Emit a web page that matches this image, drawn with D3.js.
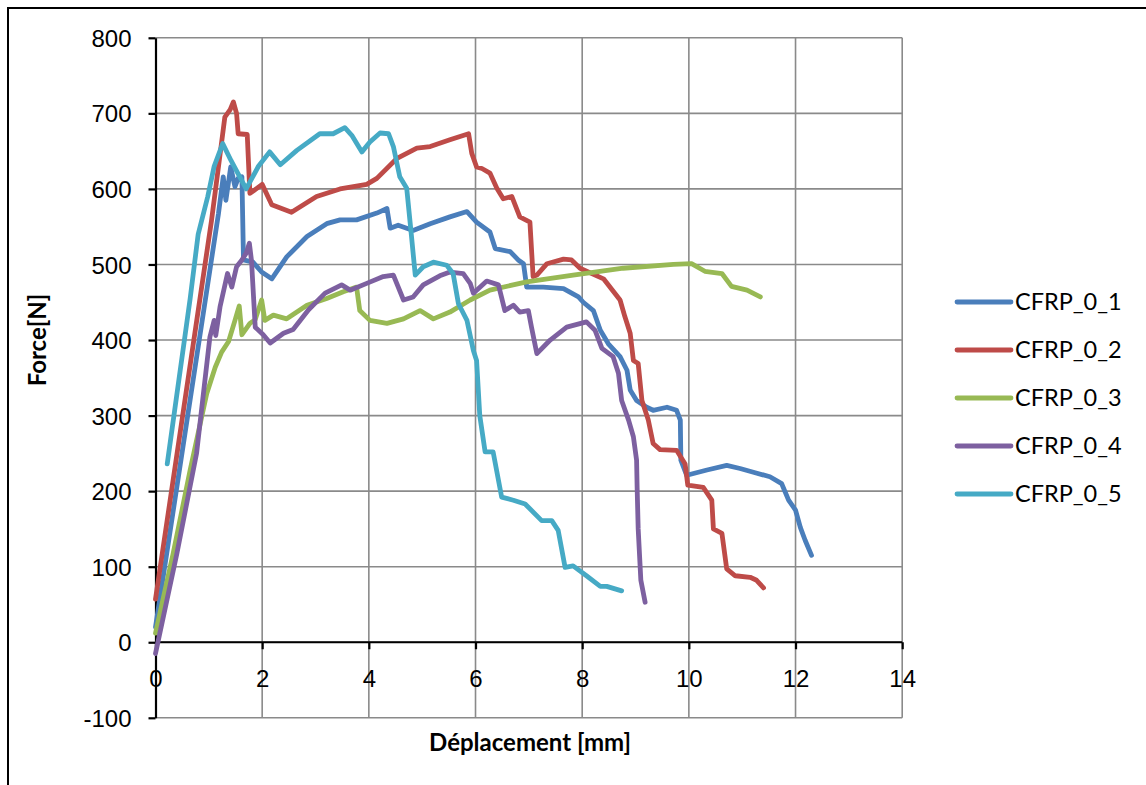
<!DOCTYPE html>
<html>
<head>
<meta charset="utf-8">
<script src="https://cdn.jsdelivr.net/npm/d3@7"></script>
<style>
    html, body { margin: 0; padding: 0; background: #fff; }
    svg { display: block; font-family: Lato, "Open Sans", sans-serif; }
    .grid line { stroke: #8a8a8a; stroke-width: 1.6; }
    .axis path, .axis line { stroke: #000; stroke-width: 2.2; }
    .axis text { font-size: 24px; fill: #000; }
    .title { font-size: 24px; font-weight: bold; fill: #000; }
    .legend text { font-size: 23.5px; fill: #000; }
</style>
</head>
<body>
<svg id="chart" width="1146" height="785"></svg>
<script>
// ---- data: [displacement mm, force N] ----
const seriesNames = ["CFRP_0_1", "CFRP_0_2", "CFRP_0_3", "CFRP_0_4", "CFRP_0_5"];
const seriesColors = ["#4a7ebb", "#be4b48", "#98b954", "#7d60a0", "#46aac5"];

const xTicks = [0, 2, 4, 6, 8, 10, 12, 14];
const yTicks = [-100, 0, 100, 200, 300, 400, 500, 600, 700, 800];

const cfrp01 = [
    [0.0, 20], [1.18, 567], [1.27, 616], [1.32, 585], [1.41, 629], [1.49, 603], [1.55, 614],
    [1.62, 616], [1.65, 506], [1.83, 503], [1.99, 490], [2.18, 481], [2.46, 510], [2.84, 537],
    [3.21, 554], [3.46, 559], [3.77, 559], [4.15, 568], [4.34, 574], [4.40, 548], [4.55, 552],
    [4.83, 545], [5.15, 554], [5.52, 563], [5.84, 570], [6.02, 556], [6.27, 543], [6.37, 521],
    [6.65, 517], [6.80, 506], [6.90, 501], [6.96, 470], [7.27, 470], [7.65, 468], [7.93, 457],
    [8.02, 450], [8.21, 439], [8.34, 413], [8.49, 395], [8.71, 378], [8.84, 360], [8.90, 334],
    [9.02, 320], [9.21, 311], [9.33, 307], [9.59, 311], [9.77, 307], [9.84, 294], [9.85, 241],
    [9.96, 221], [10.34, 228], [10.71, 234], [10.96, 230], [11.21, 225], [11.52, 219],
    [11.74, 210], [11.87, 188], [12.0, 175], [12.09, 152], [12.18, 135], [12.30, 115]
];
const cfrp02 = [
    [0.0, 57], [1.05, 558], [1.20, 640], [1.30, 695], [1.40, 705], [1.46, 715], [1.52, 700],
    [1.55, 673], [1.72, 672], [1.77, 594], [2.0, 606], [2.18, 579], [2.55, 569], [3.02, 590],
    [3.46, 600], [3.96, 606], [4.15, 614], [4.52, 640], [4.90, 654], [5.15, 656], [5.52, 665],
    [5.87, 673], [5.93, 647], [6.02, 629], [6.12, 627], [6.27, 621], [6.40, 601], [6.52, 587],
    [6.68, 590], [6.83, 563], [7.02, 556], [7.08, 484], [7.15, 486], [7.34, 501], [7.65, 507],
    [7.80, 506], [7.96, 495], [8.40, 481], [8.71, 453], [8.80, 431], [8.90, 409], [8.96, 373],
    [9.05, 369], [9.12, 320], [9.24, 294], [9.33, 263], [9.46, 255], [9.77, 254], [9.93, 236],
    [9.98, 208], [10.27, 205], [10.43, 188], [10.46, 150], [10.62, 144], [10.71, 97],
    [10.87, 88], [11.15, 86], [11.27, 82], [11.40, 72]
];
const cfrp03 = [
    [0.0, 12], [0.33, 117], [0.65, 228], [0.96, 329], [1.12, 364], [1.24, 384], [1.37, 398],
    [1.49, 426], [1.57, 445], [1.62, 407], [1.77, 422], [1.87, 427], [1.99, 453], [2.05, 426],
    [2.21, 433], [2.46, 428], [2.84, 446], [3.21, 455], [3.52, 464], [3.77, 470], [3.83, 439],
    [4.02, 426], [4.34, 422], [4.65, 428], [4.96, 439], [5.21, 428], [5.52, 437], [5.90, 453],
    [6.27, 466], [6.96, 477], [7.83, 486], [8.77, 495], [9.71, 500], [10.05, 501], [10.30, 491],
    [10.62, 488], [10.80, 471], [11.09, 466], [11.34, 457]
];
const cfrp04 = [
    [0.0, -15], [0.40, 117], [0.77, 250], [1.02, 404], [1.10, 426], [1.13, 406], [1.21, 444],
    [1.35, 488], [1.43, 470], [1.52, 497], [1.62, 506], [1.70, 515], [1.76, 528], [1.80, 505],
    [1.87, 417], [2.02, 407], [2.15, 396], [2.40, 409], [2.58, 414], [2.87, 440], [3.18, 462],
    [3.49, 473], [3.65, 466], [3.96, 475], [4.27, 484], [4.46, 486], [4.65, 453], [4.83, 457],
    [5.02, 473], [5.33, 485], [5.52, 490], [5.77, 488], [5.90, 475], [5.96, 462], [6.21, 478],
    [6.43, 473], [6.55, 439], [6.71, 446], [6.83, 437], [6.99, 439], [7.05, 417], [7.15, 382],
    [7.40, 400], [7.71, 417], [8.08, 424], [8.24, 413], [8.37, 389], [8.58, 378], [8.68, 356],
    [8.74, 320], [8.87, 294], [8.96, 272], [9.02, 241], [9.03, 205], [9.05, 150], [9.10, 82],
    [9.18, 53]
];
const cfrp05 = [
    [0.22, 236], [0.65, 455], [0.80, 540], [0.98, 590], [1.10, 630], [1.26, 660], [1.42, 637],
    [1.70, 600], [1.93, 630], [2.14, 649], [2.34, 632], [2.65, 651], [3.08, 673], [3.33, 673],
    [3.55, 681], [3.68, 671], [3.87, 649], [4.02, 662], [4.21, 674], [4.37, 673], [4.46, 656],
    [4.58, 616], [4.71, 601], [4.80, 537], [4.87, 486], [5.02, 497], [5.21, 503], [5.46, 499],
    [5.58, 488], [5.68, 448], [5.84, 426], [5.96, 386], [6.02, 373], [6.08, 300], [6.18, 252],
    [6.33, 252], [6.49, 192], [6.71, 188], [6.93, 183], [7.24, 161], [7.43, 161], [7.55, 148],
    [7.68, 99], [7.83, 101], [8.08, 88], [8.34, 74], [8.46, 74], [8.74, 68]
];
const seriesValues = [cfrp01, cfrp02, cfrp03, cfrp04, cfrp05];

document.addEventListener('DOMContentLoaded', function () {

    // ====================================================================
    // 1. CONFIGURATION
    // ====================================================================
    const CONFIG = {
        plot: { left: 155.5, top: 37.8, right: 902.2, bottom: 717.8 },
        tickLength: 7,
        lineWidth: 4.8,
        legend: { x1: 957, x2: 1011, textX: 1015, firstY: 302, step: 48 }
    };

    const svg = d3.select("#chart");

    // outer frame of the pasted chart (only left + top are in view)
    svg.append("path")
        .attr("d", "M8,785V8H1146")
        .attr("fill", "none")
        .attr("stroke", "#000")
        .attr("stroke-width", 2);

    // ====================================================================
    // 2. SCALES
    // ====================================================================
    const x = d3.scaleLinear().domain([0, 14]).range([CONFIG.plot.left, CONFIG.plot.right]);
    const y = d3.scaleLinear().domain([-100, 800]).range([CONFIG.plot.bottom, CONFIG.plot.top]);

    // ====================================================================
    // 3. GRID
    // ====================================================================
    const grid = svg.append("g").attr("class", "grid");
    grid.selectAll("line.h")
        .data(yTicks)
        .join("line")
        .attr("class", "h")
        .attr("x1", x(0)).attr("x2", x(14))
        .attr("y1", d => y(d)).attr("y2", d => y(d));
    grid.selectAll("line.v")
        .data(xTicks.filter(d => d > 0))
        .join("line")
        .attr("class", "v")
        .attr("y1", y(-100)).attr("y2", y(800))
        .attr("x1", d => x(d)).attr("x2", d => x(d));

    // ====================================================================
    // 4. AXES
    // ====================================================================
    // plain hyphen for negatives, as in the original
    const plain = d => String(d);

    const yAxis = svg.append("g")
        .attr("class", "axis")
        .attr("transform", `translate(${x(0)},0)`)
        .call(d3.axisLeft(y).tickValues(yTicks).tickFormat(plain)
            .tickSize(CONFIG.tickLength).tickPadding(17).tickSizeOuter(0));
    yAxis.selectAll("text").attr("dy", "0.36em");

    const xAxis = svg.append("g")
        .attr("class", "axis")
        .attr("transform", `translate(0,${y(0)})`)
        .call(d3.axisBottom(x).tickValues(xTicks).tickFormat(plain)
            .tickSize(CONFIG.tickLength).tickSizeOuter(0));
    xAxis.selectAll("text").attr("y", 36).attr("dy", "0.36em");
    xAxis.select(".domain").attr("d", `M${x(0)},0H${x(14)}`);

    // ====================================================================
    // 5. SERIES
    // ====================================================================
    const line = d3.line()
        .x(d => x(d[0]))
        .y(d => y(d[1]));

    svg.append("g")
        .selectAll("path")
        .data(seriesValues)
        .join("path")
        .attr("d", line)
        .attr("fill", "none")
        .attr("stroke", (d, i) => seriesColors[i])
        .attr("stroke-width", CONFIG.lineWidth)
        .attr("stroke-linejoin", "round")
        .attr("stroke-linecap", "round");

    // ====================================================================
    // 6. TITLES & LEGEND
    // ====================================================================
    svg.append("text")
        .attr("class", "title")
        .attr("text-anchor", "middle")
        .attr("transform", "translate(46,340) rotate(-90)")
        .text("Force[N]");

    svg.append("text")
        .attr("class", "title")
        .attr("text-anchor", "middle")
        .attr("x", 530).attr("y", 751)
        .text("Déplacement [mm]");

    const legend = svg.append("g").attr("class", "legend")
        .selectAll("g")
        .data(seriesNames)
        .join("g")
        .attr("transform", (d, i) => `translate(0,${CONFIG.legend.firstY + i * CONFIG.legend.step})`);
    legend.append("line")
        .attr("x1", CONFIG.legend.x1).attr("x2", CONFIG.legend.x2)
        .attr("stroke", (d, i) => seriesColors[i])
        .attr("stroke-width", CONFIG.lineWidth)
        .attr("stroke-linecap", "round");
    legend.append("text")
        .attr("x", CONFIG.legend.textX)
        .attr("dy", "0.36em")
        .text(d => d);
});
</script>
</body>
</html>
